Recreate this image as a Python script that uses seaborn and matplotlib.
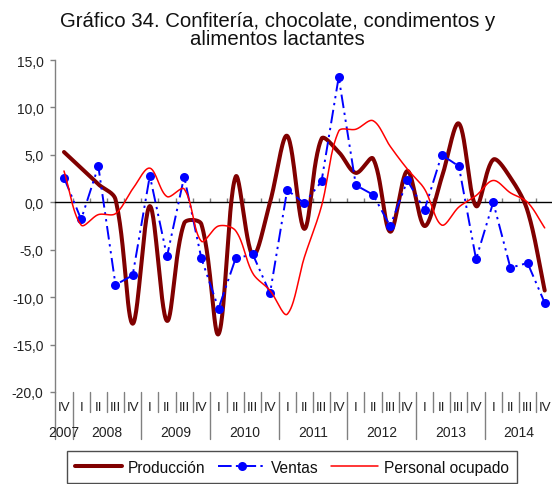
import numpy as np
import matplotlib
matplotlib.use("Agg")
import matplotlib.pyplot as plt
import seaborn as sns
from matplotlib.lines import Line2D
from matplotlib.ticker import FixedLocator, FuncFormatter

# Quarterly variation (%), 2007-IV to 2014-IV
quarters = ["IV"] + ["I", "II", "III", "IV"] * 7
years = ["2007", "2008", "2009", "2010", "2011", "2012", "2013", "2014"]
year_centers = [0, 2.5, 6.5, 10.5, 14.5, 18.5, 22.5, 26.5]

produccion = [5.3, 3.6, 1.9, 0.3, -12.8, -0.4, -12.5, -2.2, -2.3, -13.9,
              2.7, -5.6, 0.0, 7.0, -2.8, 6.7, 5.3, 3.1, 4.6, -3.1,
              3.3, -2.5, 2.6, 8.3, -0.4, 4.5, 2.6, -0.9, -9.3]
ventas = [2.6, -1.8, 3.8, -8.7, -7.7, 2.8, -5.7, 2.7, -5.9, -11.2,
          -5.9, -5.5, -9.6, 1.3, -0.1, 2.2, 13.2, 1.8, 0.8, -2.5,
          2.3, -0.8, 5.0, 3.8, -6.0, 0.0, -6.9, -6.4, -10.6]
personal = [3.3, -2.4, -1.3, -1.2, 1.4, 3.6, 0.6, 1.4, -4.1, -2.5,
            -3.0, -7.5, -9.3, -11.8, -5.8, -0.4, 7.5, 7.7, 8.6, 5.9,
            3.5, 1.4, -2.4, -0.5, 0.7, 2.3, 1.0, 0.0, -2.7]

C_PROD = "#800000"
C_VENT = "#0000FF"
C_PERS = "#FF0000"

sns.set_theme(style="white")
plt.rcParams["font.family"] = ["Liberation Sans", "DejaVu Sans"]

W, H = 552, 485
fig = plt.figure(figsize=(W / 100, H / 100), dpi=100)
ax_left, ax_right = 55.4, 553.3
ax_top, ax_bot = 61.0, 393.0
ax = fig.add_axes([ax_left / W, (H - ax_bot) / H,
                   (ax_right - ax_left) / W, (ax_bot - ax_top) / H])
ax.set_xlim(-0.5, 28.5)
ax.set_ylim(-20, 15)

# pixel scale of one category / one unit, used for chord-length smoothing
sx = (ax_right - ax_left) / 29.0
sy = (ax_bot - ax_top) / 35.0


def smooth(xv, yv, n=30):
    """Bezier smoothing with chord-length-scaled tangents (spreadsheet style)."""
    P = np.column_stack([np.asarray(xv, float) * sx, np.asarray(yv, float) * sy])
    m = len(P)
    pieces = [P[:1]]
    t = np.linspace(0, 1, n)[1:, None]
    for i in range(m - 1):
        p0 = P[i - 1] if i > 0 else P[i]
        p1, p2 = P[i], P[i + 1]
        p3 = P[i + 2] if i + 2 < m else P[i + 1]
        d01 = np.linalg.norm(p1 - p0)
        d12 = np.linalg.norm(p2 - p1)
        d23 = np.linalg.norm(p3 - p2)
        f1 = d12 / (d01 + d12) if d01 + d12 > 0 else 0.0
        f2 = d12 / (d12 + d23) if d12 + d23 > 0 else 0.0
        c1 = p1 + (p2 - p0) * f1 / 3.0
        c2 = p2 - (p3 - p1) * f2 / 3.0
        B = ((1 - t) ** 3) * p1 + 3 * ((1 - t) ** 2) * t * c1 \
            + 3 * (1 - t) * (t ** 2) * c2 + (t ** 3) * p2
        pieces.append(B)
    B = np.vstack(pieces)
    return B[:, 0] / sx, B[:, 1] / sy


x = np.arange(len(quarters))

xs, ys = smooth(x, produccion)
sns.lineplot(x=xs, y=ys, sort=False, estimator=None, color=C_PROD,
             linewidth=2.9, ax=ax, zorder=3)

sns.lineplot(x=x, y=ventas, sort=False, estimator=None, color=C_VENT,
             linewidth=1.4, marker="o", markersize=6.5, markeredgewidth=0,
             ax=ax, zorder=4)
ax.lines[-1].set_dashes([7, 2.4, 1.2, 2.4, 1.2, 2.4])

xs, ys = smooth(x, personal)
sns.lineplot(x=xs, y=ys, sort=False, estimator=None, color=C_PERS,
             linewidth=1.1, ax=ax, zorder=5)

# axes styling
for s in ["top", "right"]:
    ax.spines[s].set_visible(False)
ax.spines["left"].set_color("#808080")
ax.spines["left"].set_linewidth(1.0)
ax.spines["bottom"].set_position(("data", 0))
ax.spines["bottom"].set_color("black")
ax.spines["bottom"].set_linewidth(1.0)

ax.yaxis.set_major_locator(FixedLocator(np.arange(-20, 15.1, 5)))
ax.yaxis.set_major_formatter(FuncFormatter(lambda v, p: f"{v:.1f}".replace(".", ",")))
ax.tick_params(axis="y", direction="out", length=3.5, width=1, color="#808080",
               labelsize=10, labelcolor="#222222", pad=5, left=True)
ax.xaxis.set_major_locator(FixedLocator(np.arange(0.5, 28.5, 1)))
ax.tick_params(axis="x", direction="in", length=3, width=1, color="#808080",
               labelbottom=False, bottom=True)
ax.grid(False)

# category labels below the plot
tr = ax.get_xaxis_transform()
for i, q in enumerate(quarters):
    ax.text(i, -0.045, q, transform=tr, ha="center", va="center",
            fontsize=9.5, color="#222222")
for xc, yr in zip(year_centers, years):
    ax.text(xc, -0.12, yr, transform=tr, ha="center", va="center",
            fontsize=10, color="#222222")
short_len = 20 / (ax_bot - ax_top)
long_len = 47 / (ax_bot - ax_top)
year_starts = {0, 1, 5, 9, 13, 17, 21, 25, 29}
for k in range(0, 30):
    ln = long_len if k in year_starts else short_len
    ax.plot([k - 0.5, k - 0.5], [0, -ln], transform=tr, color="#808080",
            lw=1.0, clip_on=False, zorder=1)

fig.text(0.503, 1 - 30.5 / H, "Gráfico 34. Confitería, chocolate, condimentos y\nalimentos lactantes",
         ha="center", va="center", fontsize=14.7, color="#111111", linespacing=0.98)

handles = [
    Line2D([], [], color=C_PROD, lw=2.9),
    Line2D([], [], color=C_VENT, lw=1.4, marker="o", markersize=6.5,
           markeredgewidth=0, dashes=[7, 2.2, 1.2, 2.2]),
    Line2D([], [], color=C_PERS, lw=1.1),
]
leg = fig.legend(handles, ["Producción", "Ventas", "Personal ocupado"],
                 loc="upper center", bbox_to_anchor=(292 / W, 1 - 452 / H),
                 ncol=3, frameon=True, fancybox=False, edgecolor="#222222",
                 fontsize=11.2, handlelength=3.0, handletextpad=0.35,
                 columnspacing=0.85, borderpad=0.55, borderaxespad=0)
leg.get_frame().set_linewidth(1.0)
for t in leg.get_texts():
    t.set_color("#111111")

fig.savefig("out.png", dpi=100)
